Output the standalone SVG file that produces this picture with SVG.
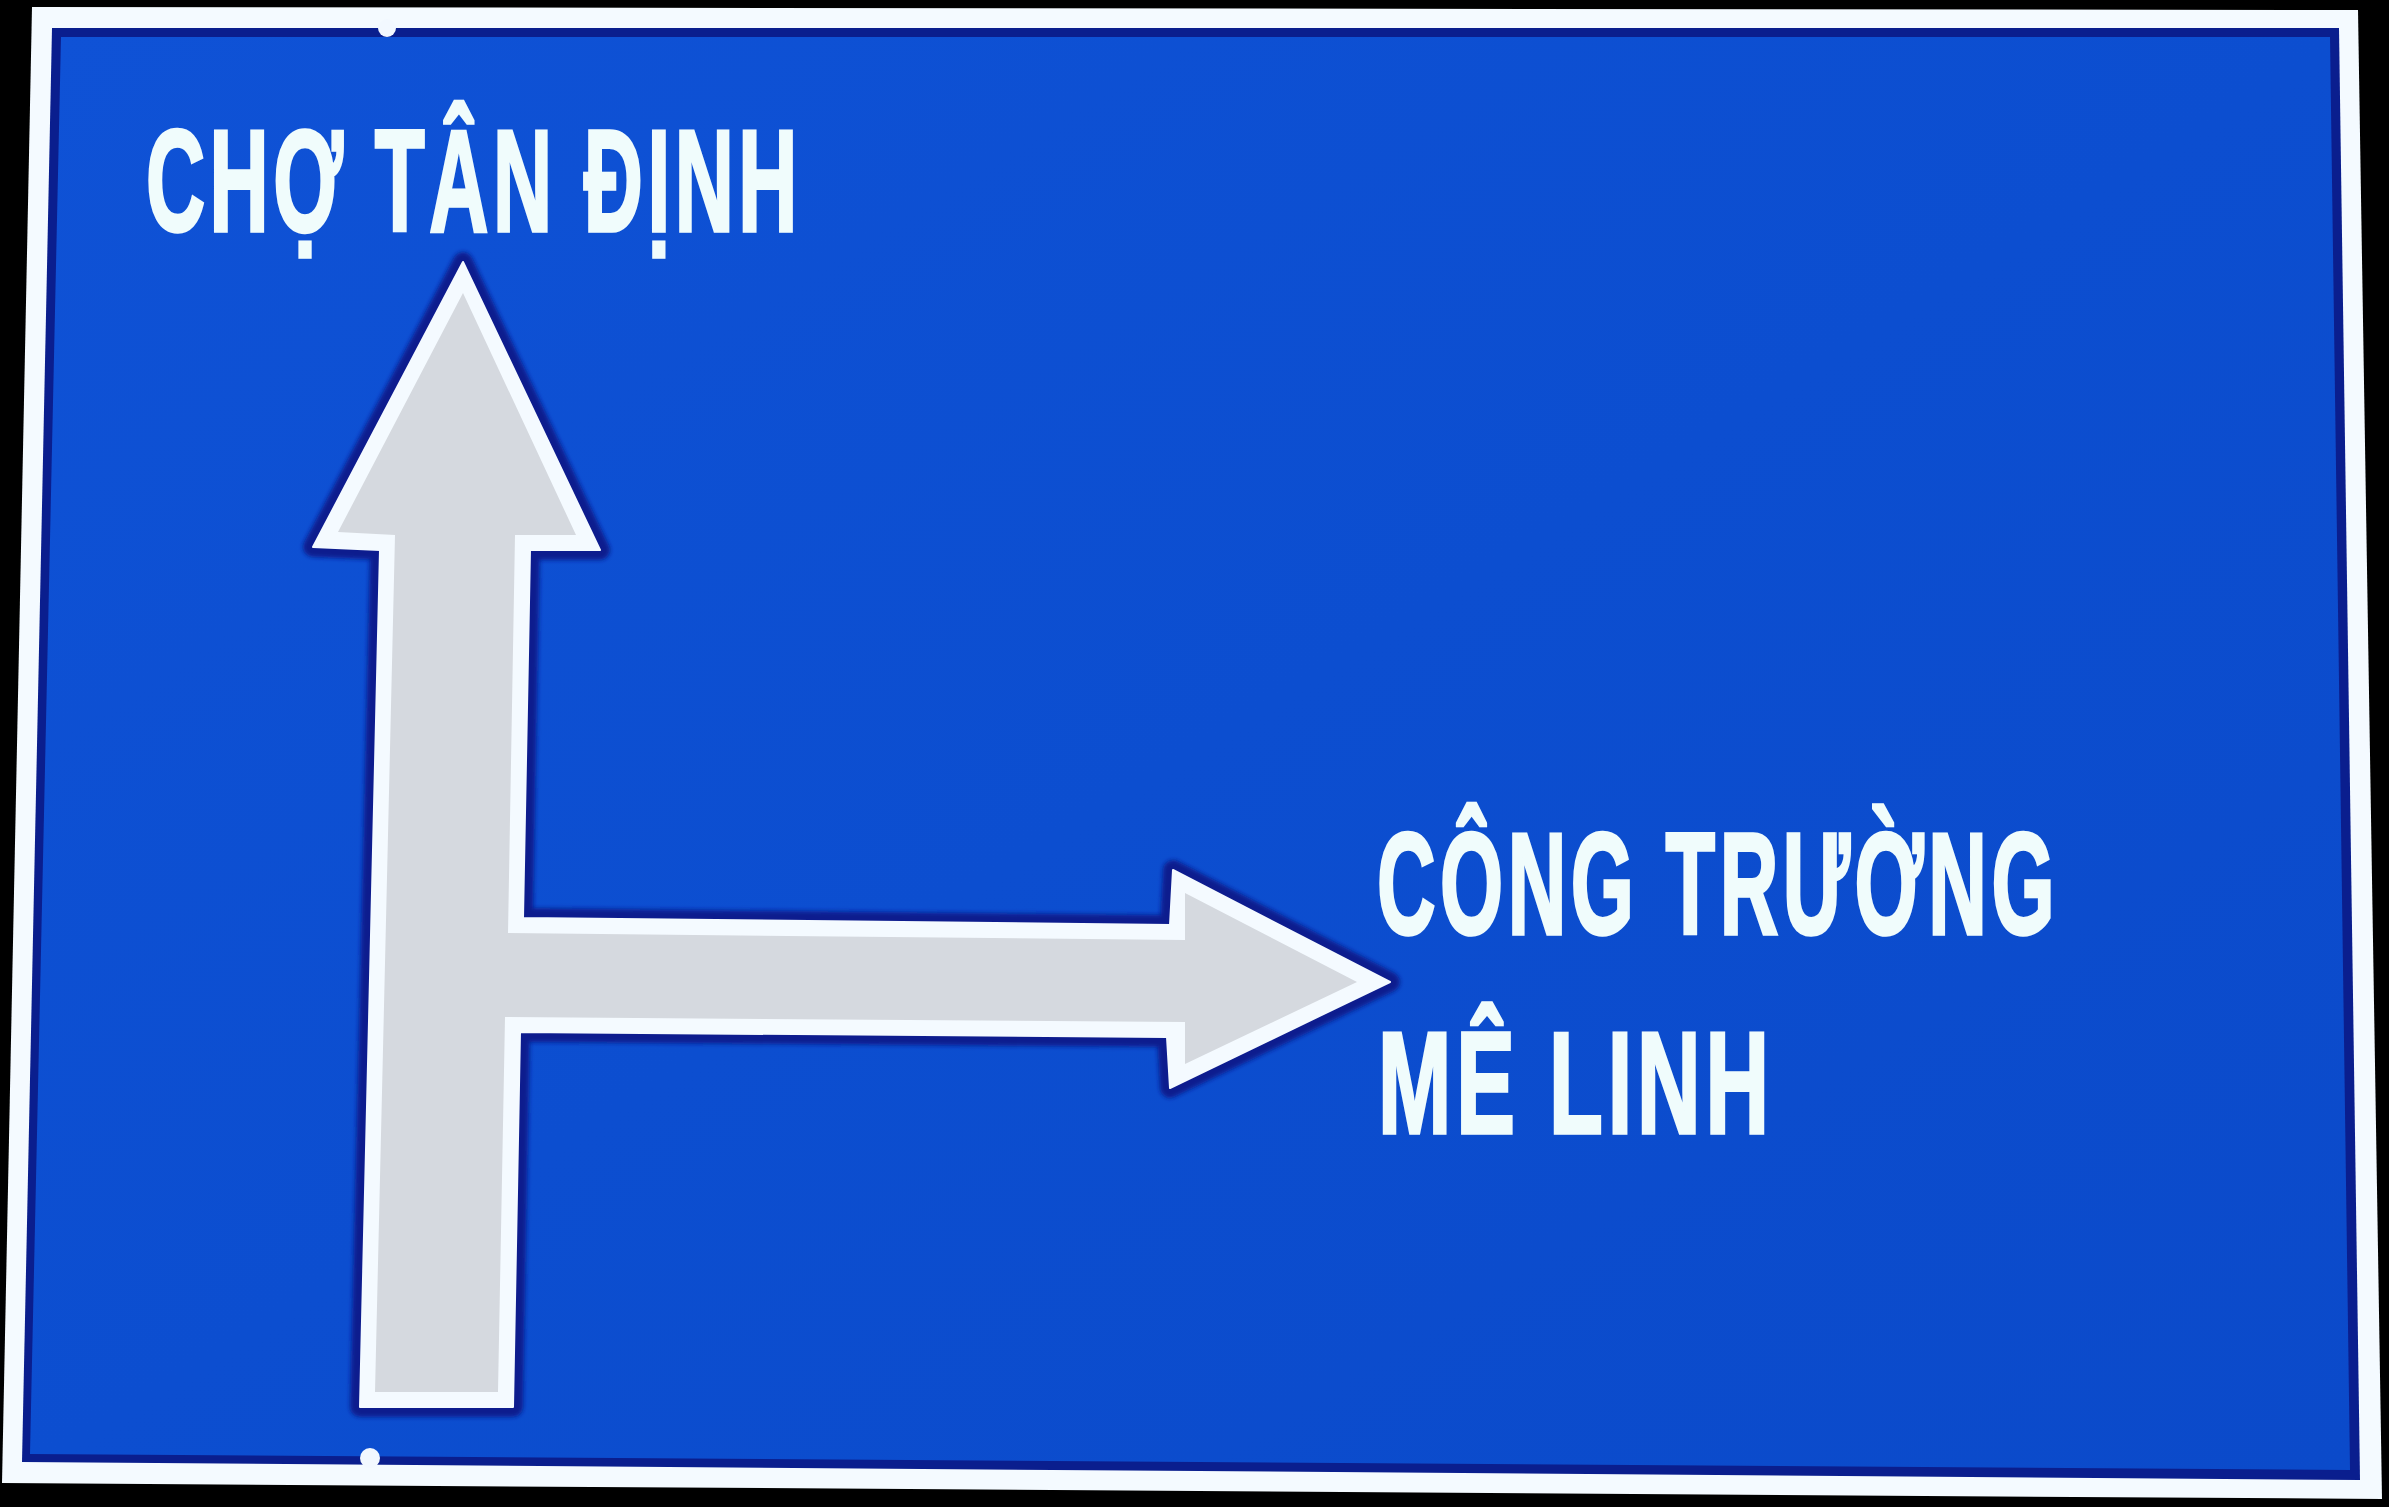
<svg xmlns="http://www.w3.org/2000/svg" width="2389" height="1507" viewBox="0 0 2389 1507">
  <defs>
    <linearGradient id="blueGrad" x1="0" y1="0" x2="1" y2="1">
      <stop offset="0" stop-color="#0F52D6"/>
      <stop offset="0.5" stop-color="#0C4ED0"/>
      <stop offset="1" stop-color="#0B4ACA"/>
    </linearGradient>
    <filter id="soft" x="-5%" y="-5%" width="110%" height="110%">
      <feGaussianBlur stdDeviation="2"/>
    </filter>
  </defs>
  <style>
    .label { font-family: "Liberation Sans Narrow", "Liberation Sans", Roboto, sans-serif; font-weight: 700; font-size: 144px; fill: #F0FCFC; stroke: #F0FCFC; stroke-width: 3.5; stroke-linejoin: miter; letter-spacing: 8px; }
    .halo { fill: none; stroke: #0A1E8E; stroke-width: 20; stroke-linejoin: round; }
    .outline { fill: #F4FAFF; stroke: #F4FAFF; stroke-width: 2; stroke-linejoin: round; }
    .face { fill: #D5D9DF; }
    .bolt { fill: #F2F8FF; }
  </style>

  <rect x="0" y="0" width="2389" height="1507" fill="#000000"/>

  <g id="board">
    <polygon points="32,7 2358,10 2382,1499 2,1483" fill="#F4FAFF"/>
    <polygon points="52,28 2339,28 2360,1480 22,1462" fill="#0A1E8E"/>
    <polygon points="61,37 2330,37 2350,1470 30,1454" fill="url(#blueGrad)"/>
    <circle class="bolt" cx="387" cy="28" r="9"/>
    <circle class="bolt" cx="370" cy="1458" r="10"/>
  </g>

  <g id="connectors">
    <g id="arrow">
      <polygon class="halo" filter="url(#soft)" points="463,262 600,550 530,550 523,918 1170,925 1173,870 1390,982 1170,1088 1167,1037 520,1032 513,1407 360,1407 380,550 313,547"/>
      <polygon class="outline" points="463,262 600,550 530,550 523,918 1170,925 1173,870 1390,982 1170,1088 1167,1037 520,1032 513,1407 360,1407 380,550 313,547"/>
      <polygon class="face" points="463,293 576,535 515,535 508,933 1185,940 1185,893 1357,982 1185,1064 1185,1022 505,1017 498,1392 375,1392 395,535 338,532"/>
    </g>
  </g>

  <g id="label-cho-tan-dinh">
    <text class="label" transform="translate(146,231) scale(0.58,1)" x="0" y="0" textLength="1131" lengthAdjust="spacingAndGlyphs">CHỢ TÂN ĐỊNH</text>
  </g>
  <g id="label-cong-truong-me-linh">
    <text class="label" transform="translate(1377,934) scale(0.58,1)" x="0" y="0" textLength="1176" lengthAdjust="spacingAndGlyphs">CÔNG TRƯỜNG</text>
    <text class="label" transform="translate(1378,1133) scale(0.6,1)" x="0" y="0" textLength="660" lengthAdjust="spacingAndGlyphs">MÊ LINH</text>
  </g>
</svg>
